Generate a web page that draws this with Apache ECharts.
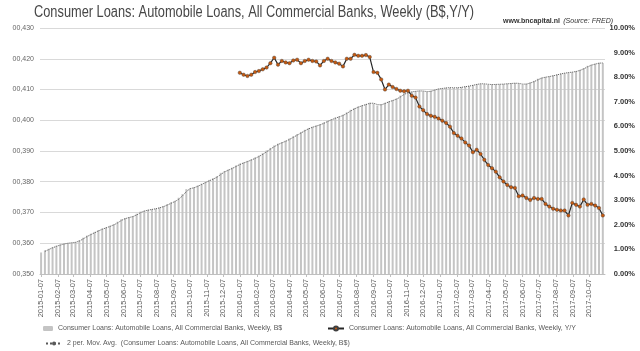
<!DOCTYPE html>
<html>
<head>
<meta charset="utf-8">
<script src="https://cdn.jsdelivr.net/npm/echarts@6/dist/echarts.min.js"></script>
<style>html,body{margin:0;padding:0;background:#fff}#c{width:640px;height:351px}</style>
</head>
<body>
<div id="c"></div>
<script>
// ---- data ----
const firstWeek = '2015-01-07';           // weekly observations (Wednesdays)
const yoyStartWeek = 52;                   // Y/Y series starts one year in

// Consumer Loans: Automobile Loans, All Commercial Banks, Weekly (as shown on left axis)
const loans = [
  0.3570, 0.3577, 0.3582, 0.3588, 0.3592, 0.3596, 0.3599, 0.3601, 0.3602, 0.3604,
  0.3610, 0.3618, 0.3625, 0.3631, 0.3637, 0.3643, 0.3648, 0.3652, 0.3657, 0.3662,
  0.3670, 0.3678, 0.3682, 0.3685, 0.3688, 0.3696, 0.3703, 0.3706, 0.3709, 0.3711,
  0.3713, 0.3717, 0.3721, 0.3727, 0.3733, 0.3738, 0.3748, 0.3760, 0.3776, 0.3779,
  0.3782, 0.3788, 0.3794, 0.3800, 0.3806, 0.3811, 0.3818, 0.3829, 0.3835, 0.3840,
  0.3846, 0.3853, 0.3859, 0.3863, 0.3868, 0.3873, 0.3879, 0.3885, 0.3893, 0.3902,
  0.3910, 0.3918, 0.3924, 0.3929, 0.3934, 0.3941, 0.3948, 0.3955, 0.3962, 0.3969,
  0.3975, 0.3979, 0.3983, 0.3987, 0.3993, 0.3999, 0.4004, 0.4009, 0.4013, 0.4018,
  0.4026, 0.4034, 0.4040, 0.4045, 0.4049, 0.4053, 0.4057, 0.4054, 0.4048, 0.4052,
  0.4057, 0.4062, 0.4066, 0.4071, 0.4080, 0.4088, 0.4091, 0.4093, 0.4095, 0.4096,
  0.4094, 0.4092, 0.4096, 0.4100, 0.4103, 0.4104, 0.4106, 0.4106, 0.4105, 0.4106,
  0.4108, 0.4110, 0.4112, 0.4115, 0.4118, 0.4119, 0.4118, 0.4116, 0.4116, 0.4117,
  0.4117, 0.4118, 0.4119, 0.4120, 0.4121, 0.4119, 0.4116, 0.4119, 0.4123, 0.4128,
  0.4135, 0.4139, 0.4141, 0.4143, 0.4146, 0.4149, 0.4152, 0.4154, 0.4156, 0.4157,
  0.4160, 0.4164, 0.4170, 0.4177, 0.4181, 0.4184, 0.4187, 0.4186
];

// Y/Y % change, from week 52 onward
const yoy = [
  8.18, 8.10, 8.05, 8.10, 8.21, 8.25, 8.32, 8.39, 8.57, 8.79,
  8.51, 8.66, 8.60, 8.57, 8.68, 8.71, 8.57, 8.66, 8.71, 8.66,
  8.64, 8.48, 8.66, 8.75, 8.66, 8.60, 8.55, 8.44, 8.75, 8.75,
  8.91, 8.87, 8.87, 8.90, 8.82, 8.21, 8.18, 7.91, 7.50, 7.70,
  7.60, 7.52, 7.45, 7.43, 7.45, 7.25, 7.17, 6.81, 6.66, 6.50,
  6.43, 6.39, 6.32, 6.23, 6.14, 5.99, 5.73, 5.62, 5.51, 5.35,
  5.22, 4.95, 5.05, 4.88, 4.64, 4.43, 4.30, 4.16, 3.93, 3.76,
  3.62, 3.53, 3.50, 3.16, 3.19, 3.09, 3.01, 3.09, 3.05, 3.05,
  2.85, 2.74, 2.65, 2.61, 2.58, 2.58, 2.38, 2.89, 2.81, 2.74,
  3.03, 2.81, 2.85, 2.78, 2.68, 2.38
];

const tickLabels = [
  '2015-01-07','2015-02-07','2015-03-07','2015-04-07','2015-05-07','2015-06-07',
  '2015-07-07','2015-08-07','2015-09-07','2015-10-07','2015-11-07','2015-12-07',
  '2016-01-07','2016-02-07','2016-03-07','2016-04-07','2016-05-07','2016-06-07',
  '2016-07-07','2016-08-07','2016-09-07','2016-10-07','2016-11-07','2016-12-07',
  '2017-01-07','2017-02-07','2017-03-07','2017-04-07','2017-05-07','2017-06-07',
  '2017-07-07','2017-08-07','2017-09-07','2017-10-07'
];

const axisStart = '2015-01-05';
const axisEnd = '2017-11-05';

const titleText = 'Consumer Loans: Automobile Loans, All Commercial Banks, Weekly (B$,Y/Y)';
const nameBars = 'Consumer Loans: Automobile Loans, All Commercial Banks, Weekly, B$';
const nameYoy = 'Consumer Loans: Automobile Loans, All Commercial Banks, Weekly, Y/Y';
const nameMA = '2 per. Mov. Avg.  (Consumer Loans: Automobile Loans, All Commercial Banks, Weekly, B$)';

// ---- helpers ----
const DAY = 86400000;
function ts(s){ const p = s.split('-').map(Number); return Date.UTC(p[0], p[1]-1, p[2]); }
function fmt(v){
  const d = new Date(v);
  const m = d.getUTCMonth()+1, dd = d.getUTCDate();
  return d.getUTCFullYear() + '-' + (m<10?'0':'') + m + '-' + (dd<10?'0':'') + dd;
}
const t0 = ts(firstWeek);
const weeks = loans.map((_, i) => t0 + i*7*DAY);
const barData = loans.map((v, i) => [weeks[i], v]);
const maData = loans.map((v, i) => [weeks[i], i === 0 ? null : (loans[i-1] + v) / 2]);
const yoyData = yoy.map((v, k) => [weeks[yoyStartWeek + k], v]);
const tickVals = tickLabels.map(ts);

const FONT = 'Liberation Sans';
const chart = echarts.init(document.getElementById('c'), null, {renderer: 'canvas'});
chart.setOption({
  animation: false,
  backgroundColor: '#ffffff',
  graphic: [
    {
      type: 'text', x: 34, y: 5, scaleX: 0.8, scaleY: 1,
      style: {text: titleText, fontFamily: FONT, fontSize: 16, fill: '#474747'}
    },
    {
      type: 'text', x: 503, y: 15,
      style: {
        text: '{a|www.bncapital.nl} {b|(Source: FRED)}',
        rich: {
          a: {fontFamily: FONT, fontSize: 7, fontWeight: 'bold', fill: '#333'},
          b: {fontFamily: FONT, fontSize: 7, fontStyle: 'italic', fill: '#333'}
        }
      }
    }
  ],
  grid: {left: 40, right: 35, top: 28, bottom: 77, containLabel: false},
  legend: [
    {data: [nameBars], left: 38, top: 320, itemWidth: 10, itemHeight: 5,
     textStyle: {fontFamily: FONT, fontSize: 7, color: '#595959'}},
    {data: [nameYoy], left: 322, top: 320, itemWidth: 16, itemHeight: 5,
     textStyle: {fontFamily: FONT, fontSize: 7, color: '#595959'}},
    {data: [nameMA], left: 40, top: 335, itemWidth: 16, itemHeight: 5,
     textStyle: {fontFamily: FONT, fontSize: 7, color: '#595959'}}
  ],
  xAxis: {
    type: 'value',
    min: ts(axisStart), max: ts(axisEnd),
    splitLine: {show: false},
    axisLine: {show: true, lineStyle: {color: '#bfbfbf', width: 1}},
    axisTick: {show: true, customValues: tickVals, length: 3, lineStyle: {color: '#bfbfbf'}},
    axisLabel: {
      customValues: tickVals, rotate: 90, margin: 5,
      fontFamily: FONT, fontSize: 7.5, color: '#595959',
      formatter: v => fmt(v), hideOverlap: false
    }
  },
  yAxis: [
    {
      type: 'value', min: 0.35, max: 0.43, interval: 0.01,
      axisLine: {show: false}, axisTick: {show: false},
      splitLine: {show: true, lineStyle: {color: '#d9d9d9', width: 1}},
      axisLabel: {fontFamily: FONT, fontSize: 7, color: '#666', margin: 6,
        formatter: v => '00,' + Math.round(v*1000)}
    },
    {
      type: 'value', min: 0, max: 10, interval: 1,
      axisLine: {show: false}, axisTick: {show: false}, splitLine: {show: false},
      axisLabel: {fontFamily: FONT, fontSize: 7.5, color: '#333', fontWeight: 'bold',
        align: 'right', margin: 30, formatter: v => v.toFixed(2) + '%'}
    }
  ],
  series: [
    {
      name: nameBars, type: 'bar', data: barData, yAxisIndex: 0,
      barWidth: 2, itemStyle: {color: '#c4c4c4'}, z: 1
    },
    {
      name: nameMA, type: 'line', data: maData, yAxisIndex: 0,
      showSymbol: false, symbol: 'none',
      lineStyle: {color: '#595959', width: 1, type: 'dotted'},
      itemStyle: {color: '#595959'}, z: 2
    },
    {
      name: nameYoy, type: 'line', data: yoyData, yAxisIndex: 1,
      symbol: 'circle', symbolSize: 3.5, showSymbol: true,
      lineStyle: {color: '#262626', width: 1.2},
      itemStyle: {color: '#c55a11', borderColor: '#404040', borderWidth: 0.4}, z: 3
    }
  ]
});
</script>
</body>
</html>
